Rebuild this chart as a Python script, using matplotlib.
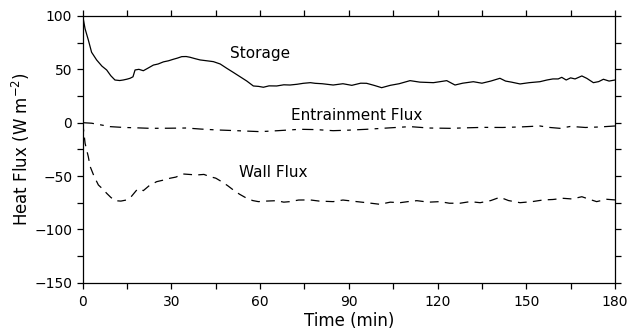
import matplotlib
matplotlib.use("Agg")
import matplotlib.pyplot as plt

# values (time in min, flux in W m-2)
storage_t = [0, 0.8, 1.9, 3.0, 4.7, 6.5, 8.1, 9.5, 10.9, 12.5, 13.7, 15.0, 16.0, 17.0,
             17.7, 19.0, 20.5, 22.0, 23.9, 25.5, 27.3, 29.0, 30.6, 32.0, 33.5, 35.0,
             36.3, 38.0, 39.7, 42.0, 44.2, 46.5, 48.7, 51.0, 53.2, 55.5, 57.7, 59.5,
             61.1, 63.0, 65.6, 68.0, 70.1, 72.5, 74.6, 77.0, 78.6, 81.0, 84.7, 88.0,
             91.0, 94.0, 96.0, 98.5, 101.1, 104.0, 107.0, 110.7, 114.0, 118.6, 121.0,
             123.1, 125.9, 128.5, 132.1, 135.0, 138.0, 141.1, 143.0, 145.0, 147.9,
             151.0, 154.6, 157.0, 159.0, 160.8, 162.0, 163.5, 165.0, 166.5, 168.8,
             170.5, 172.7, 174.5, 176.1, 178.0, 180.0]
storage = [100, 88, 77.5, 66, 58.8, 53, 49.4, 44, 40, 39.5, 40, 40.8, 41.6, 43,
           49.4, 50, 48.7, 51, 54, 55, 57, 58, 59.4, 60.5, 61.9, 62, 61.3, 60,
           58.8, 58, 57.2, 55, 51, 47, 43.1, 39, 34.4, 34, 33.2, 34.5, 34.4, 35.5,
           35.3, 36, 36.9, 37.5, 36.9, 36.5, 35.3, 36.5, 35, 37, 36.9, 35, 32.8,
           35, 36.5, 39.4, 38, 37.5, 38.5, 39.4, 35.3, 37, 38.4, 37, 39, 41.6, 39,
           38, 36.3, 37.5, 38.4, 40, 41, 41, 42.5, 40, 42, 41, 43.8, 41.5, 37.5,
           38.5, 40.7, 39, 40]

entrain_t = [0, 3, 6, 9.2, 14, 18, 22.8, 29, 35, 40, 45.3, 52, 60, 66, 73.5, 79,
             84.7, 90, 96, 103, 110.7, 117, 124.3, 130, 135.6, 142, 148, 154.6,
             158, 161.4, 165, 170, 175, 180]
entrain = [0, -0.5, -2, -3.7, -4.5, -4.8, -5.3, -5.2, -5, -6, -6.8, -7.5, -8.4,
           -7.5, -6.2, -6.5, -7.5, -7, -6.2, -5, -3.7, -5, -5.3, -4.8, -4.4, -4.5,
           -4, -3.1, -4.5, -5.3, -3.5, -4.5, -4, -3.1]

wall_t = [0, 0.8, 1.9, 2.5, 3.8, 5.3, 6.7, 8.1, 9.5, 10.9, 12.9, 14.9, 16.5, 18.3,
          19.5, 20.5, 22.5, 25.0, 27.0, 29.5, 31.5, 34.0, 36.0, 38.6, 41.0, 43.0,
          45.0, 47.0, 49.0, 50.9, 53.0, 55.5, 57.5, 59.4, 62.0, 65.6, 68.0, 70.1,
          73.0, 76.9, 80.0, 84.7, 88.0, 92.7, 96.0, 100.5, 104.0, 107.3, 110.0,
          113.0, 117.0, 120.8, 124.0, 127.6, 131.0, 134.4, 138.0, 141.1, 144.0,
          147.9, 152.0, 155.8, 159.0, 162.5, 165.5, 168.8, 171.0, 173.8, 177.2, 180.0]
wall = [0, -19.3, -32, -41, -50, -58.4, -62, -66.2, -70, -73.1, -73.5, -72.4, -69,
        -63, -62, -63.7, -59, -55.3, -54, -52.1, -51, -48.1, -48.5, -49, -48.5,
        -50.6, -52, -55.3, -59, -63, -67, -70.9, -73, -74, -73.5, -73.1, -74.5,
        -74, -72.5, -72.4, -73.5, -74, -72.5, -74, -75, -76.5, -74.5, -75, -74,
        -73.1, -74.5, -74, -75.5, -75.5, -74, -75, -73, -69.9, -73, -75, -74,
        -72.4, -72, -70.9, -71.5, -69.4, -71.5, -74, -71.8, -72.4]

x_ticks = [0, 30, 60, 90, 120, 150, 180]
y_ticks = [-150, -100, -50, 0, 50, 100]

def main():

    plt.rcParams["font.family"] = "DejaVu Sans"
    fig = plt.figure(figsize = (6.29, 3.33), dpi = 100)
    ax = fig.add_axes([0.1315, 0.151, 0.8462, 0.801])

    ax.plot(storage_t, storage, color = "black", linewidth = 0.9)
    ax.plot(entrain_t, entrain, color = "black", linewidth = 0.9,
            linestyle = (0, (9, 5, 3, 5)))
    ax.plot(wall_t, wall, color = "black", linewidth = 0.9,
            linestyle = (0, (7, 5)))

    ax.text(60, 65, "Storage", fontsize = 11, ha = "center", va = "center")
    ax.text(92.5, 6.3, "Entrainment Flux", fontsize = 11, ha = "center", va = "center")
    ax.text(64.5, -46.5, "Wall Flux", fontsize = 11, ha = "center", va = "center")

    ax.set_xlim(0, 180)
    ax.set_ylim(-150, 100)
    ax.set_xticks(x_ticks)
    ax.set_yticks(y_ticks)
    ax.set_xticks(range(0, 181, 15), minor = True)
    ax.set_yticks(range(-150, 101, 25), minor = True)
    ax.tick_params(which = "both", direction = "out", length = 4, width = 0.9,
                   top = True, right = True, labelsize = 10)
    ax.tick_params(axis = "x", pad = 5)
    for spine in ax.spines.values():
        spine.set_linewidth(0.9)

    ax.set_xlabel("Time (min)", fontsize = 12, labelpad = 2)
    ax.set_ylabel("Heat Flux (W m$^{-2}$)", fontsize = 12, labelpad = 2)

    fig.savefig("out.png", dpi = 100)
    plt.close(fig)

if __name__ == "__main__":
    main()
